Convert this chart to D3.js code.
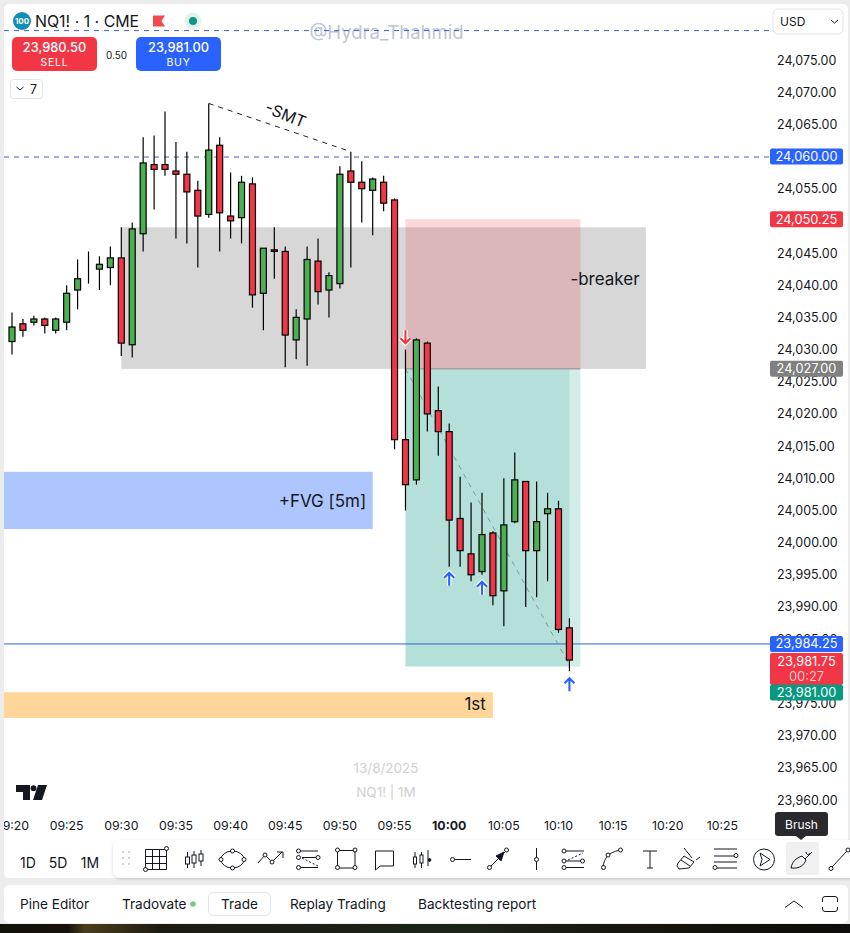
<!DOCTYPE html>
<html><head><meta charset="utf-8">
<script src="https://cdn.jsdelivr.net/npm/d3@7"></script>
<style>
html,body{margin:0;padding:0;background:#ececec;overflow:hidden}
svg{display:block}
text{font-family:Inter,"Noto Sans",sans-serif;fill:#131722}
</style></head><body><svg id="c" width="850" height="933"></svg>
<script>
const barTimes=["09:19","09:20","09:21","09:22","09:23","09:24","09:25","09:26","09:27","09:28","09:29","09:30","09:31","09:32","09:33","09:34","09:35","09:36","09:37","09:38","09:39","09:40","09:41","09:42","09:43","09:44","09:45","09:46","09:47","09:48","09:49","09:50","09:51","09:52","09:53","09:54","09:55","09:56","09:57","09:58","09:59","10:00","10:01","10:02","10:03","10:04","10:05","10:06","10:07","10:08","10:09","10:10","10:11"];
const opens=[24031.25,24031.25,24034,24034.25,24034.75,24033,24034.25,24039.25,24041.5,24042.5,24042.75,24044.25,24030.75,24048,24058.75,24058.75,24057.75,24057.25,24054.75,24051,24061.75,24050.75,24050.5,24055.75,24038.75,24045.5,24045.25,24031.5,24034.75,24043.75,24039.25,24040.25,24057.75,24056,24054.75,24056,24053.25,24016,24009.75,24031,24020.5,24017.25,24003.75,23998.25,23995.5,24001.5,23992.5,24003.25,24009.5,23998.75,24004.5,24005.25,23986.75];
const highs=[24031.25,24035.75,24034.75,24035.25,24035,24035,24040,24044,24045.25,24044.5,24046,24049,24049.75,24063,24063.25,24067,24062.25,24060.75,24056.25,24068.25,24063,24057.5,24057,24056.75,24045.75,24049,24046,24036.25,24046,24047.25,24042,24058.5,24060.75,24059.25,24056.75,24057,24053.5,24030,24031.75,24031.25,24024.25,24018.5,24010.25,24006.25,24007.75,24001.75,24010,24014,24009.5,24009.5,24007.75,24006.5,23988.25];
const lows=[24029.75,24029.25,24032,24033.75,24032.5,24032.5,24033,24036.25,24040.25,24039.25,24040,24029,24028.75,24045.25,24051.75,24057,24047.25,24046.5,24042.75,24050.5,24045.25,24047.25,24046.5,24036.5,24033,24041,24027.25,24028.5,24027.5,24037,24035,24039.5,24042.75,24049.75,24047.75,24051.5,24014.5,24005,24009,24017.25,24013.5,23996.25,23996.25,23994,23995,23990.25,23987,24003,23990,23991.5,23994,23986,23980];
const closes=[24031.25,24033.5,24033,24034.75,24033.75,24034.75,24038.75,24041,24041.5,24043.25,24044.25,24031,24048.75,24059,24058,24058,24057.25,24054.5,24050.75,24061,24051.25,24050,24056,24038.5,24045.75,24045.25,24032.25,24035,24044,24039,24041.5,24057.25,24056,24055,24056.5,24052.75,24016,24009,24031.5,24020,24017.25,24003.5,23998.75,23995,24001.25,23991.75,24002.75,24009.75,23998.75,24003.25,24005.25,23986.5,23981.75];
const timeTicks=["09:20","09:25","09:30","09:35","09:40","09:45","09:50","09:55","10:00","10:05","10:10","10:15","10:20","10:25"];
const priceTicks=[24075,24070,24065,24060,24055,24050,24045,24040,24035,24030,24025,24020,24015,24010,24005,24000,23995,23990,23985,23980,23975,23970,23965,23960];
const dashedLevels=[24079.65,24060];
const lastPriceLine=23984.25;
const zones=[
 {name:"gray",from:"09:30",to:"10:18",top:24049,bottom:24027,fill:"#d7d7d7"},
 {name:"fvg",from:"09:18",to:"09:53",top:24011,bottom:24002.1,fill:"#adc6fd"},
 {name:"first",from:"09:18",to:"10:04",top:23976.75,bottom:23972.75,fill:"#ffd699"},
 {name:"stop",from:"09:56",to:"10:12",top:24050.25,bottom:24027,fill:"rgba(242,54,69,0.2)"},
 {name:"target",from:"09:56",to:"10:11",top:24027,bottom:23980.75,fill:"rgba(8,153,129,0.3)"},
 {name:"targetFuture",from:"10:11",to:"10:12",top:24027,bottom:23980.75,fill:"rgba(8,153,129,0.18)"}
];
const trendLines=[{from:"09:38",p1:24068.25,to:"09:51",p2:24060.75,stroke:"#222",w:1,dash:"5,5"},
 {from:"09:56",p1:24027,to:"10:11",p2:23981,stroke:"#7f9b97",w:1,dash:"5,5"}];
const arrows=[{t:"09:56",p:24031.9,dir:"down",color:"#f23645"},{t:"10:00",p:23994.4,dir:"up",color:"#2962ff"},{t:"10:03",p:23993,dir:"up",color:"#2962ff"},{t:"10:11",p:23978,dir:"up",color:"#2962ff"}];
const priceTags=[{p:24060,label:"24,060.00",fill:"#2962ff"},{p:24050.25,label:"24,050.25",fill:"#f23645"},{p:24027,label:"24,027.00",fill:"#808080"},{p:23984.25,label:"23,984.25",fill:"#2962ff"}];

const svg=d3.select("#c");
const mins=s=>{const [h,m]=s.split(":").map(Number);return h*60+m;};
const x=d3.scaleLinear().domain([mins("09:30"),mins("10:10")]).range([121.3,558.5]);
const y=d3.scaleLinear().domain([24075,23960]).range([60,800]);
const xt=s=>x(mins(s));

// page panels
svg.append("rect").attr("x",4).attr("y",4).attr("width",844).attr("height",874).attr("rx",5).attr("fill","#fff");
svg.append("rect").attr("x",4).attr("y",885).attr("width",844).attr("height",38).attr("rx",5).attr("fill","#fff");
const defs=svg.append("defs");
const strip=defs.append("linearGradient").attr("id","strip");
[[0,"#120f08"],[.08,"#16120a"],[.1,"#4a3c1c"],[.135,"#3a3018"],[.19,"#1c1a10"],[.4,"#1a2016"],[.55,"#1c2418"],[.75,"#16140c"],[1,"#0e0c08"]]
 .forEach(([o,c])=>strip.append("stop").attr("offset",o).attr("stop-color",c));
svg.append("rect").attr("x",0).attr("y",924).attr("width",850).attr("height",9).attr("fill","url(#strip)");

defs.append("clipPath").attr("id","plot").append("rect").attr("x",4).attr("y",4).attr("width",766).attr("height",836);
const plot=svg.append("g").attr("clip-path","url(#plot)");

// time axis
const axX=plot.append("g").attr("transform","translate(-0.5,816)")
 .call(d3.axisBottom(x).tickValues(timeTicks.map(mins)).tickSize(0).tickPadding(5)
 .tickFormat(v=>timeTicks.find(t=>mins(t)===v)));
axX.select(".domain").remove();
axX.selectAll("text").style("font-family","Inter,sans-serif").style("font-size","12.3px").attr("fill","#131722")
 .style("font-weight",(d)=>d===mins("10:00")?"700":"400");

// watermark
plot.append("text").attr("x",386.5).attr("y",39).attr("text-anchor","middle").style("font-size","18.5px").style("fill","#bcc5d4").text("@Hydra_Thahmid");
plot.append("text").attr("x",386).attr("y",773).attr("text-anchor","middle").style("font-size","13.5px").style("fill","#d0d0d0").text("13/8/2025");
plot.append("text").attr("x",386).attr("y",797).attr("text-anchor","middle").style("font-size","13.5px").style("fill","#d0d0d0").text("NQ1! | 1M");
// logo
const logo=svg.append("g").attr("transform","translate(16,785)").attr("fill","#131722");
logo.append("path").attr("d","M0 0H14V15H7V7H0Z");
logo.append("circle").attr("cx",17.5).attr("cy",3.2).attr("r",2.9);
logo.append("path").attr("d","M22 0H31L26 15H17Z");

// zones below candles
plot.selectAll("rect.z").data(zones).join("rect").attr("class","z")
 .attr("x",d=>Math.max(xt(d.from),-10)).attr("width",d=>xt(d.to)-xt(d.from))
 .attr("y",d=>y(d.top)).attr("height",d=>y(d.bottom)-y(d.top)).attr("fill",d=>d.fill);
plot.append("line").attr("x1",xt("09:56")).attr("x2",xt("10:12")).attr("y1",y(24027)).attr("y2",y(24027)).attr("stroke","#8d8d8d").attr("stroke-width",1);

// levels
plot.selectAll("line.lv").data(dashedLevels).join("line").attr("class","lv")
 .attr("x1",4).attr("x2",770).attr("y1",d=>y(d)+.5).attr("y2",d=>y(d)+.5)
 .attr("stroke","#3f5fc0").attr("stroke-width",1).attr("stroke-dasharray","5,5");
plot.append("line").attr("x1",4).attr("x2",770).attr("y1",y(lastPriceLine)).attr("y2",y(lastPriceLine)).attr("stroke","#2a66d8").attr("stroke-width",1);

// trend lines
plot.selectAll("line.tr").data(trendLines).join("line").attr("class","tr")
 .attr("x1",d=>xt(d.from)).attr("x2",d=>xt(d.to)).attr("y1",d=>y(d.p1)).attr("y2",d=>y(d.p2))
 .attr("stroke",d=>d.stroke).attr("stroke-width",d=>d.w).attr("stroke-dasharray",d=>d.dash);

// candles
const bars=barTimes.map((t,i)=>({t,o:opens[i],h:highs[i],l:lows[i],c:closes[i]}));
const g=plot.selectAll("g.b").data(bars).join("g").attr("class","b");
g.append("line").attr("x1",d=>xt(d.t)).attr("x2",d=>xt(d.t)).attr("y1",d=>y(d.h)).attr("y2",d=>y(d.l)).attr("stroke","#000").attr("stroke-width",1.2);
g.append("rect").attr("x",d=>xt(d.t)-3).attr("width",6)
 .attr("y",d=>y(Math.max(d.o,d.c))).attr("height",d=>Math.abs(y(d.o)-y(d.c)))
 .attr("fill",d=>d.c>=d.o?"#4caf50":"#f23645").attr("stroke","#000").attr("stroke-width",1.2);

// arrows
const ag=plot.selectAll("g.a").data(arrows).join("g").attr("class","a")
 .attr("transform",d=>`translate(${xt(d.t)},${y(d.p)})`);
const arrowPath=d=>d.dir==="up"?"M0 7V-6M-5 -1L0 -6L5 -1":"M0 -7V6M-5 1L0 6L5 1";
ag.append("path").attr("d",arrowPath).attr("fill","none").attr("stroke","#fff").attr("stroke-width",4.5);
ag.append("path").attr("d",arrowPath).attr("fill","none").attr("stroke",d=>d.color).attr("stroke-width",2.1);

// zone texts
const lbl=(t,p,s,anchor,fs)=>plot.append("text").attr("x",t).attr("y",y(p)).attr("text-anchor",anchor).attr("dominant-baseline","middle").style("font-size",fs+"px").text(s);
lbl(xt("09:53")-6.5,24006.3,"+FVG [5m]","end",17);
lbl(xt("10:04")-7,23974.7,"1st","end",17);
lbl(605,24040.7,"-breaker","middle",17);
plot.append("text").attr("transform",`translate(285,116) rotate(22)`).attr("text-anchor","middle").attr("dominant-baseline","middle").style("font-size","16px").text("-SMT");

// price axis
const axY=svg.append("g").attr("transform","translate(771,0)")
 .call(d3.axisRight(y).tickValues(priceTicks).tickSize(0).tickPadding(6).tickFormat(d3.format(",.2f")));
axY.select(".domain").remove();
axY.selectAll("text").style("font-family","Inter,sans-serif").style("font-size","12.5px").attr("fill","#131722");

// price tags
const tag=(yc,h,fill)=>svg.append("rect").attr("x",770).attr("y",yc-h/2).attr("width",73).attr("height",h).attr("rx",2).attr("fill",fill);
const tagT=(yc,s,op)=>svg.append("text").attr("x",806.5).attr("y",yc).attr("text-anchor","middle").attr("dominant-baseline","central").style("font-size","12.8px").style("fill","#fff").style("opacity",op||1).text(s);
priceTags.forEach(d=>{tag(y(d.p),16,d.fill);tagT(y(d.p),d.label);});
tag(669,32,"#f23645");tagT(661,"23,981.75");tagT(676.5,"00:27",.75);
tag(692.5,16,"#089981");tagT(692.5,"23,981.00");

// header
svg.append("rect").attr("x",773).attr("y",9).attr("width",70).attr("height",25).attr("rx",5).attr("fill","#fff").attr("stroke","#e0e3eb");
svg.append("text").attr("x",780).attr("y",26).style("font-size","12px").text("USD");
svg.append("path").attr("d","M831 20l3.5 3 3.5-3").attr("fill","none").attr("stroke","#131722");
svg.append("circle").attr("cx",22).attr("cy",21).attr("r",9).attr("fill","#0e8fb3");
svg.append("text").attr("x",22).attr("y",24).attr("text-anchor","middle").style("font-size","8px").style("font-weight","700").style("fill","#fff").text("100");
svg.append("text").attr("x",35).attr("y",27).style("font-size","15.9px").text("NQ1! · 1 · CME");
svg.append("path").attr("d","M153 15.5H165L161.5 21L165 26.5H153Z").attr("fill","#f2484f");
svg.append("circle").attr("cx",193).attr("cy",21).attr("r",8.5).attr("fill","#e3f2ef");
svg.append("circle").attr("cx",193).attr("cy",21).attr("r",4).attr("fill","#089981");
const btn=(bx,fill,a,b)=>{svg.append("rect").attr("x",bx).attr("y",37).attr("width",85).attr("height",34).attr("rx",5).attr("fill",fill);
 svg.append("text").attr("x",bx+42.5).attr("y",52).attr("text-anchor","middle").style("font-size","12.8px").style("font-weight","500").style("fill","#fff").text(a);
 svg.append("text").attr("x",bx+42.5).attr("y",66).attr("text-anchor","middle").style("font-size","10.5px").style("letter-spacing","0.8px").style("fill","#fff").text(b);};
btn(12,"#f23645","23,980.50","SELL");btn(136,"#2962ff","23,981.00","BUY");
svg.append("text").attr("x",116.5).attr("y",58.5).attr("text-anchor","middle").style("font-size","10px").text("0.50");
svg.append("rect").attr("x",10.5).attr("y",79.5).attr("width",32).attr("height",19).attr("rx",3).attr("fill","#fff").attr("stroke","#e0e3eb");
svg.append("path").attr("d","M16.5 87l3.5 3 3.5-3").attr("fill","none").attr("stroke","#131722");
svg.append("text").attr("x",30).attr("y",94).style("font-size","12.5px").text("7");

// brush tooltip
svg.append("rect").attr("x",775).attr("y",812).attr("width",53).attr("height",24).attr("rx",3).attr("fill","#2a2a2e");
svg.append("text").attr("x",801.5).attr("y",829).attr("text-anchor","middle").style("font-size","12px").style("fill","#fff").text("Brush");

// bottom toolbar
[["1D",28],["5D",58],["1M",90]].forEach(([s,tx])=>svg.append("text").attr("x",tx).attr("y",868).attr("text-anchor","middle").style("font-size","14px").text(s));
defs.append("filter").attr("id","sh").attr("x","-5%").attr("y","-20%").attr("width","110%").attr("height","140%")
 .append("feDropShadow").attr("dx",0).attr("dy",1).attr("stdDeviation",1.5).attr("flood-color","#000").attr("flood-opacity",.18);
svg.append("rect").attr("x",113).attr("y",840).attr("width",745).attr("height",38).attr("rx",8).attr("fill","#fff").attr("filter","url(#sh)");
svg.append("path").attr("d","M796 836l5 4 5-4Z").attr("fill","#2a2a2e");
svg.append("rect").attr("x",786).attr("y",842).attr("width",33).attr("height",33).attr("rx",2).attr("fill","#f0f0f0");
[[122,851],[128,851],[122,857],[128,857],[122,863],[128,863]].forEach(([a,b])=>svg.append("rect").attr("x",a).attr("y",b).attr("width",2).attr("height",2).attr("fill","#d0d3da"));
const ico=svg.append("g").attr("fill","none").attr("stroke","#131722").attr("stroke-width",1);
const P=d=>ico.append("path").attr("d",d);
const D=(a,b)=>ico.append("circle").attr("cx",a).attr("cy",b).attr("r",2).attr("fill","#fff");
// grid
P("M145.5 849.5H166.5V869.5H145.5ZM152.5 849.5V869.5M159.5 849.5V869.5M145.5 856.5H166.5M145.5 863.5H166.5");D(145.5,869.5);D(166.5,848.5);
// candles icon
P("M187.5 852V868M194 851V868M201 850V866");ico.append("rect").attr("x",185.5).attr("y",857).attr("width",4).attr("height",7).attr("fill","#fff");ico.append("rect").attr("x",192).attr("y",855).attr("width",4).attr("height",8).attr("fill","#fff");ico.append("rect").attr("x",199).attr("y",854).attr("width",4).attr("height",7).attr("fill","#fff");
// ellipse
ico.append("ellipse").attr("cx",232.5).attr("cy",859.5).attr("rx",11.5).attr("ry",8.5);D(221,859.5);D(244,859.5);D(232.5,851);D(232.5,868);
// polyline
P("M258 863L265 855L272 862L282 852M277 852H283V858");D(265,855);D(272,862);
// fib
P("M300 851H318M302 857.5H318M300 867.5H318");ico.append("path").attr("d","M302 858L318 866").attr("stroke-dasharray","2,2");D(298.5,851);D(298.5,857.5);D(318,857.5);D(298.5,867.5);
// rect
P("M337.5 850.5H355V868H337.5Z");D(337.5,850);D(355,850);D(337.5,867.5);D(355,867.5);
// comment
P("M375.5 851H393.5V866H380L375.5 870Z");
// candles 2
P("M415 852V868M421.5 852V868M428 850V866");ico.append("rect").attr("x",413.5).attr("y",857).attr("width",3).attr("height",7).attr("fill","#fff");ico.append("rect").attr("x",420).attr("y",855).attr("width",3).attr("height",8).attr("fill","#fff");ico.append("circle").attr("cx",429.5).attr("cy",860).attr("r",1.4).attr("fill","#131722");
// ray
P("M455 859.5H471");D(452.5,859.5);
// arrow
P("M491 866L505 852");D(489.5,867.5);D(506.5,850);ico.append("path").attr("d","M504 852L496 856L501 861Z").attr("fill","#131722");
// vertical
P("M536.5 848V870");D(536.5,859.5);
// fib 2
P("M566 851H584M566 867.5H584M566 861H582");ico.append("path").attr("d","M568 860L583 853").attr("stroke-dasharray","2,2");D(564,851);D(564,861);D(582.5,861);D(564,867.5);
// curve
P("M603 866C605 858 607 853 620 850");D(603.5,867.5);D(608,855);D(620.5,850);
// T
P("M643 851H657M650 851V868M647 868H653");
// highlighter
P("M684 848L692 858M678 863L684 856L694 862L689 868L679 869L677 866ZM681 860L690 866M696 860L700 857");
// lines
P("M714 849H737M714 856H737M714 862H737M714 868H737");D(736,855.5);D(715,867.5);
// cursor circle
ico.append("circle").attr("cx",764).attr("cy",859.5).attr("r",10.5);P("M760 853L770 859.5L760 866L762 859.5Z");
// brush
P("M791 868C792 862 796 858 802 856L806 860C804 865 800 869 791 868ZM805 859L812 852M806 852C806 855 809 855 810 853");
// last line
P("M832 867L847 851");D(831,868.5);D(848,850);

// bottom panel
[["Pine Editor",20],["Tradovate",122],["Trade",239.5],["Replay Trading",290],["Backtesting report",418]].forEach(([s,tx])=>{
 svg.append("text").attr("x",tx).attr("y",909).attr("text-anchor",s==="Trade"?"middle":"start").style("font-size","13.6px").text(s);});
svg.append("rect").attr("x",208.5).attr("y",892.5).attr("width",62).attr("height",23).attr("rx",5).attr("fill","none").attr("stroke","#e0e3eb");
svg.append("circle").attr("cx",193).attr("cy",904).attr("r",2.8).attr("fill","#7fc48a");
svg.append("path").attr("d","M785 907.5L794 901L803 907.5").attr("fill","none").attr("stroke","#131722");
svg.append("path").attr("d","M822.5 902V899Q822.5 896.5 825 896.5H835Q837.5 896.5 837.5 899V902M837.5 907V909Q837.5 911.5 835 911.5H825Q822.5 911.5 822.5 909V907").attr("fill","none").attr("stroke","#131722");
</script></body></html>
